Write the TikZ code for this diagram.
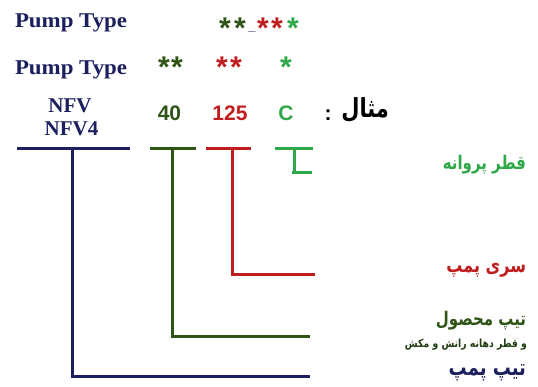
\documentclass[tikz,border=0pt]{standalone}
\usepackage{fontspec}
\setmainfont{Liberation Serif}
\newfontfamily\sansf{Liberation Sans}
\newfontfamily\fafont[Script=Arabic]{DejaVu Sans}
\TeXXeTstate=1
\definecolor{navy}{HTML}{1B1F5E}
\definecolor{dgreen}{HTML}{2E5416}
\definecolor{myred}{HTML}{C01E1E}
\definecolor{lgreen}{HTML}{2FA84A}
\begin{document}
\begin{tikzpicture}[x=1pt,y=-1pt,inner sep=0pt,outer sep=0pt,
  sertxt/.style={font=\fontsize{21}{21}\selectfont\bfseries,text=navy},
  pumptxt/.style={font=\fontsize{21}{21}\selectfont\bfseries,text=navy,xscale=1.09},
  numtxt/.style={font=\sansf\fontsize{21}{21}\selectfont\bfseries},
  startxt/.style={font=\sansf\fontsize{30}{30}\selectfont\bfseries,anchor=base},
  fatxt/.style={font=\fafont\fontsize{15}{15}\selectfont\bfseries,anchor=east,yscale=1.25},
  fasmall/.style={font=\fafont\fontsize{9.3}{9.3}\selectfont\bfseries,anchor=east,yscale=1.2},
  ln/.style={line width=3pt}]
\useasboundingbox[fill=white] (0,0) rectangle (538,386);

% left labels
\node[pumptxt,anchor=base west] (pt1) at (15,27) {Pump Type};
\node[pumptxt,anchor=base west] (pt2) at (15,74) {Pump Type};
\node[sertxt,anchor=base] (nfv) at (70,112) {NFV};
\node[sertxt,anchor=base] (nfv4) at (71.5,135) {NFV4};

% stars, row 1
\node[startxt,text=dgreen] (a1) at (225,38) {*};
\node[startxt,text=dgreen] (a2) at (240,38) {*};
\node[font=\sansf\fontsize{13}{13}\selectfont\bfseries,anchor=base,text=navy] (u1) at (252,30.5) {\_};
\node[startxt,text=myred]  (a3) at (263,38) {*};
\node[startxt,text=myred]  (a4) at (277,38) {*};
\node[startxt,text=lgreen] (a5) at (293,38) {*};
% stars, row 2
\node[startxt,text=dgreen] (b1) at (164,77) {*};
\node[startxt,text=dgreen] (b2) at (177,77) {*};
\node[startxt,text=myred]  (b3) at (222,77) {*};
\node[startxt,text=myred]  (b4) at (236,77) {*};
\node[startxt,text=lgreen] (b5) at (286,77) {*};

% example row
\node[numtxt,text=dgreen,anchor=base] (n40) at (169.5,120) {40};
\node[numtxt,text=myred,anchor=base] (n125) at (230,120) {125};
\node[numtxt,text=lgreen,anchor=base] (nc) at (286,120) {C};
\node[numtxt,text=black,anchor=base] (col) at (328,120) {:};
\node[font=\fafont\fontsize{21}{21}\selectfont\bfseries,anchor=base east,yscale=1.25] (ex) at (389,117) {\beginR مثال\endR};

% right labels
\node[fatxt,text=lgreen] (l1) at (526,165) {\beginR قطر پروانه\endR};
\node[fatxt,text=myred,font=\fafont\fontsize{16}{16}\selectfont\bfseries] (l2) at (526,270) {\beginR سری پمپ\endR};
\node[fatxt,text=dgreen] (l3) at (526,321) {\beginR تیپ محصول\endR};
\node[fasmall,text=dgreen!70!black] (l3b) at (527,345) {\beginR و قطر دهانه رانش و مکش\endR};
\node[fatxt,text=navy,font=\fafont\fontsize{18}{18}\selectfont\bfseries] (l4) at (526,373) {\beginR تیپ پمپ\endR};

% brackets
\coordinate (na) at (17,148); \coordinate (nb) at (130,148);
\coordinate (nt) at (72,148); \coordinate (ne) at (310,376);
\draw[ln,navy] (na) -- (nb);
\draw[ln,navy] (nt) |- (ne);

\coordinate (ga) at (150,148); \coordinate (gb) at (196,148);
\coordinate (gt) at (172,148); \coordinate (ge) at (310,336);
\draw[ln,dgreen] (ga) -- (gb);
\draw[ln,dgreen] (gt) |- (ge);

\coordinate (ra) at (206,148); \coordinate (rb) at (251,148);
\coordinate (rt) at (232,148); \coordinate (re) at (315,274);
\draw[ln,myred] (ra) -- (rb);
\draw[ln,myred] (rt) |- (re);

\coordinate (la) at (275,148); \coordinate (lb) at (313,148);
\coordinate (lt) at (294,148); \coordinate (lc) at (294,172);
\coordinate (ld) at (292,172); \coordinate (le) at (312,172);
\draw[ln,lgreen] (la) -- (lb);
\draw[ln,lgreen] (lt) -- (lc);
\draw[ln,lgreen] (ld) -- (le);
\end{tikzpicture}
\end{document}
